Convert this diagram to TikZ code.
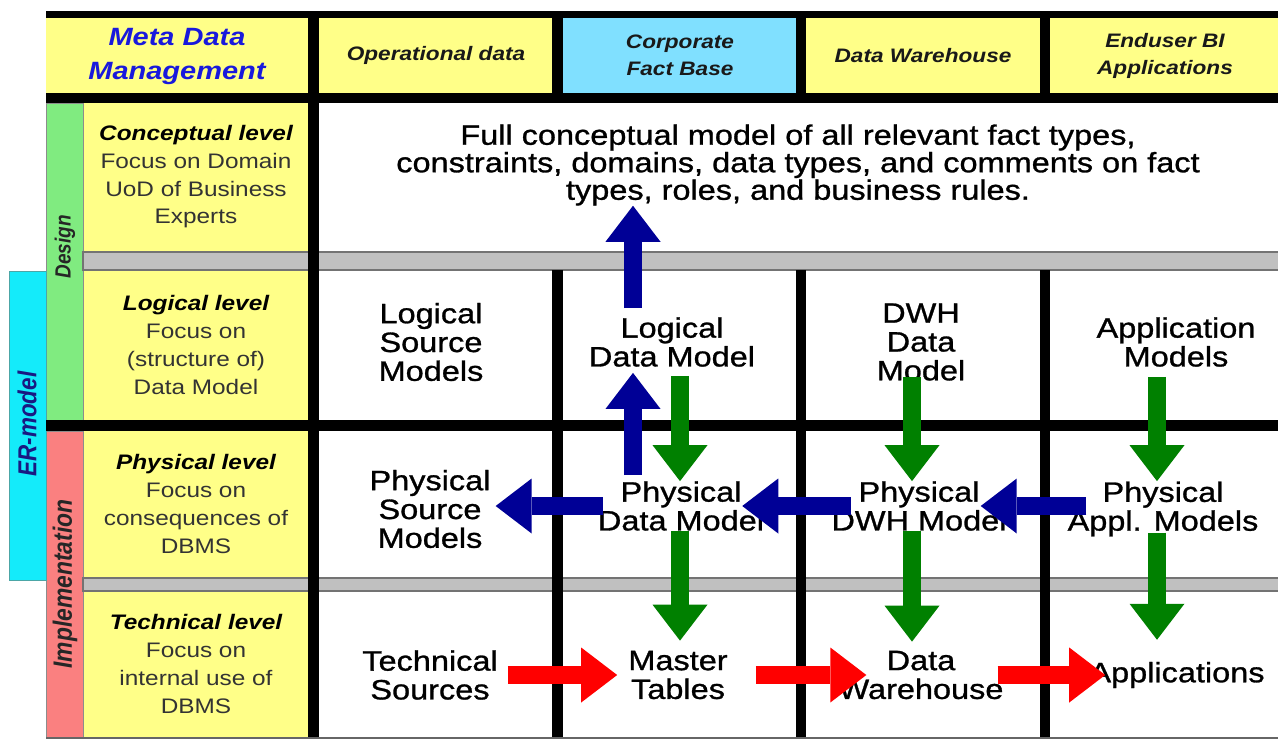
\documentclass[tikz,border=0pt]{standalone}
\usepackage{fontspec}
\setmainfont{Liberation Sans}[FakeStretch=1.16]
\newfontfamily\sidefont{Liberation Sans}[FakeStretch=0.862]
\newfontfamily\modelfont{Liberation Sans}[FakeStretch=1.16, FakeBold=1]
\usepackage{xcolor}
\usepackage{tikz}
\usetikzlibrary{arrows.meta}

\definecolor{cellyellow}{RGB}{255,255,136}
\definecolor{factcyan}{RGB}{128,224,255}
\definecolor{ercyan}{RGB}{20,235,250}
\definecolor{designgreen}{RGB}{128,235,128}
\definecolor{implred}{RGB}{250,128,128}
\definecolor{bargrey}{RGB}{192,192,192}
\definecolor{metablue}{RGB}{25,25,220}
\definecolor{erblue}{RGB}{25,25,130}
\definecolor{arrblue}{RGB}{0,0,150}
\definecolor{arrgreen}{RGB}{0,128,0}
\definecolor{arrred}{RGB}{255,0,0}

\begin{document}
\begin{tikzpicture}[x=1pt,y=-1pt,
    every node/.style={inner sep=0pt, align=center},
    headtext/.style={font=\fontsize{19.5}{27}\selectfont\bfseries\itshape, text=black!90},
    lvltext/.style={font=\fontsize{21}{27.7}\selectfont, text=black!80},
    bodytext/.style={font=\modelfont\fontsize{28}{28.8}\selectfont},
    sidetext/.style={rotate=90, text=black!85},
    blockarrow/.style={line width=18pt, -{Triangle[length=36pt,width=55pt,line width=0pt]}},
    bluearrow/.style={blockarrow, draw=arrblue},
    greenarrow/.style={blockarrow, draw=arrgreen},
    redarrow/.style={blockarrow, draw=arrred}]
    \useasboundingbox (0,0) rectangle (1278,740);
    \fill[white] (0,0) rectangle (1278,740);
    % Header row
    \fill[black] (46,11) rectangle (1282,103);
    \fill[cellyellow] (46,18) rectangle (308,93);
    \fill[cellyellow] (319,18) rectangle (552,93);
    \fill[factcyan] (563,18) rectangle (796,93);
    \fill[cellyellow] (806,18) rectangle (1040,93);
    \fill[cellyellow] (1050,18) rectangle (1282,93);
    % Level cells
    \foreach \ya/\yb in {103/252, 270/420, 431/578, 591/737}
      \fill[cellyellow] (83,\ya) rectangle (308,\yb);
    % Side strips
    \filldraw[fill=designgreen, draw=black!45] (46,103) rectangle (83,420);
    \filldraw[fill=implred, draw=black!45] (46,431) rectangle (83,738);
    \filldraw[fill=ercyan, draw=teal!70] (9,271) rectangle (46,580);
    % Grey bars
    \foreach \ya/\yb in {252/270, 578/591}
      \filldraw[fill=bargrey, draw=black!55, line width=1.5pt] (83,\ya) rectangle (1290,\yb);
    % Black bar and separators
    \fill[black] (46,420) rectangle (1282,431);
    \fill[black] (308,93) rectangle (319,738);
    \foreach \xa/\xb in {552/563, 796/806, 1040/1050}
      \fill[black] (\xa,270) rectangle (\xb,738);
    \draw[black!60, line width=1.5pt] (46,738) -- (1282,738);

    % Headers
    \node[headtext, text=metablue, font=\fontsize{25}{34}\selectfont\bfseries\itshape] (meta) at (177,56) {Meta Data\\Management};
    \node[headtext] (opdata) at (436,55.5) {Operational data};
    \node[headtext] (cfb) at (680,55.5) {Corporate\\Fact Base};
    \node[headtext] (dwhhead) at (923,55.5) {Data Warehouse};
    \node[headtext] (endbi) at (1165,55.5) {Enduser BI\\Applications};

    % Levels
    \node[lvltext] (conc) at (196,177) {\textbf{\textit{\color{black}Conceptual level}}\\Focus on Domain\\UoD of Business\\Experts};
    \node[lvltext] (logi) at (196,345) {\textbf{\textit{\color{black}Logical level}}\\Focus on\\(structure of)\\Data Model};
    \node[lvltext] (phys) at (196,504) {\textbf{\textit{\color{black}Physical level}}\\Focus on\\consequences of\\DBMS};
    \node[lvltext] (tech) at (196,664) {\textbf{\textit{\color{black}Technical level}}\\Focus on\\internal use of\\DBMS};

    % Side labels
    \node[sidetext, font=\sidefont\fontsize{22}{22}\selectfont\bfseries\itshape] (design) at (65,247) {Design};
    \node[sidetext, font=\sidefont\fontsize{26.5}{26.5}\selectfont\bfseries\itshape] (impl) at (65,584) {Implementation};
    \node[sidetext, text=erblue, font=\sidefont\fontsize{26}{26}\selectfont\bfseries\itshape] (ermodel) at (27,424) {ER-model};

    % Models
    \node[bodytext, font=\modelfont\fontsize{28}{27.5}\selectfont] (cfull) at (798,165) {Full conceptual model of all relevant fact types,\\constraints, domains, data types, and comments on fact\\types, roles, and business rules.};
    \node[bodytext] (lsm) at (431,342) {Logical\\Source\\Models};
    \node[bodytext] (ldm) at (672,342) {Logical\\Data Model};
    \node[bodytext] (dwhm) at (921,342) {DWH\\Data\\Model};
    \node[bodytext] (appm) at (1176,342) {Application\\Models};
    \node[bodytext] (psm) at (430,509) {Physical\\Source\\Models};
    \node[bodytext] (pdm) at (681,506) {Physical\\Data Model};
    \node[bodytext] (pdwh) at (919,506) {Physical\\DWH Model};
    \node[bodytext] (pappm) at (1163,509) {Physical\\Appl. Models};
    \node[bodytext] (tsrc) at (430,675) {Technical\\Sources};
    \node[bodytext] (mtab) at (678,675) {Master\\Tables};
    \node[bodytext] (dwh) at (921,675) {Data\\Warehouse};
    \node[bodytext] (apps) at (1177,675) {Applications};

    % Up to the conceptual model
    \draw[bluearrow] ([shift={(-39,-9)}]ldm.north) -- ([xshift=-39pt]ldm.north |- cfull.south);
    \draw[bluearrow] ([shift={(-48,-6)}]pdm.north) -- ([shift={(-39,6)}]ldm.south);
    % Logical to physical to technical
    \draw[greenarrow] ([shift={(8,9)}]ldm.south) -- ([xshift=8pt]ldm.south |- pdm.north);
    \draw[greenarrow, shorten >=10pt] ([xshift=-1pt]pdm.south) -- ([xshift=-1pt]pdm.south |- mtab.north);
    \draw[greenarrow] ([shift={(-9,-4)}]dwhm.south) -- ([xshift=-9pt]dwhm.south |- pdwh.north);
    \draw[greenarrow, shorten >=9pt] ([xshift=-7pt]pdwh.south) -- ([xshift=-7pt]pdwh.south |- dwh.north);
    \draw[greenarrow] ([shift={(-19,10)}]appm.south) -- ([xshift=-19pt]appm.south |- pdwh.north);
    \draw[greenarrow, shorten >=22pt] ([shift={(-6,-4)}]pappm.south) -- ([xshift=-6pt]pappm.south |- apps.north);
    % Physical models, right to left
    \draw[bluearrow] ([xshift=5pt]pdm.west) -- ([xshift=5pt]psm.east |- pdm.west);
    \draw[bluearrow] ([xshift=20pt]pdwh.west) -- ([xshift=-22pt]pdm.east);
    \draw[bluearrow] ([xshift=19pt]pappm.west |- pdwh.west) -- ([xshift=-26pt]pdwh.east);
    % Technical level, left to right
    \draw[redarrow] ([xshift=10pt]tsrc.east) -- ([xshift=-11pt]mtab.west);
    \draw[redarrow] ([xshift=28pt]mtab.east) -- ([xshift=28pt]dwh.west);
    \draw[redarrow] ([xshift=-6pt]dwh.east) -- ([xshift=16pt]apps.west);
\end{tikzpicture}
\end{document}
